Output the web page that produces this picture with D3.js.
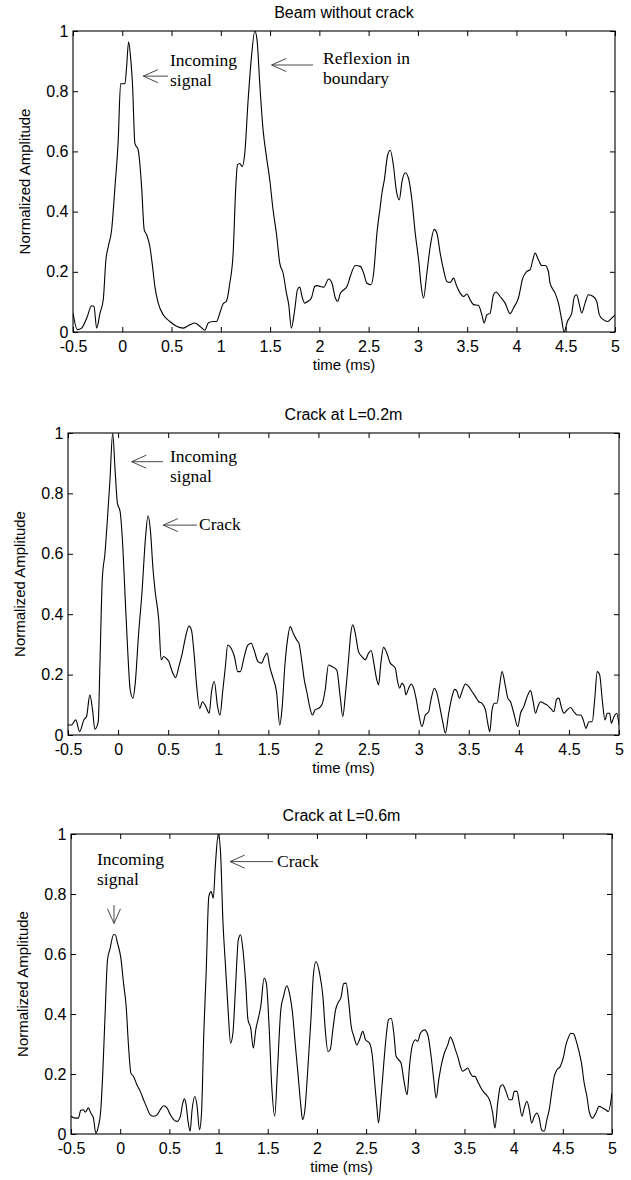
<!DOCTYPE html>
<html>
<head>
<meta charset="utf-8">
<script src="https://cdn.jsdelivr.net/npm/d3@7"></script>
<style>
  body { margin: 0; background: #fff; }
  svg { display: block; }
  .axis text { font-family: "Liberation Sans", Arial, sans-serif; font-size: 16px; fill: #000; }
  .axis line { stroke: #000; }
  .title, .xlabel, .ylabel { font-family: "Liberation Sans", Arial, sans-serif; fill: #000; }
  .title { font-size: 16px; }
  .xlabel, .ylabel { font-size: 15px; }
  .note { font-family: "Liberation Serif", "Times New Roman", serif; font-size: 17.5px; fill: #000; }
  .note-arrow { stroke: #333; stroke-width: 0.9; fill: none; }
</style>
</head>
<body>
<div id="chart"></div>
<script>
// signal traces: [time (ms), normalized amplitude]
const beamNoCrack = [
  [-0.500, 0.063], [-0.456, 0.008], [-0.412, 0.013], [-0.361, 0.046], [-0.311, 0.087], [-0.287, 0.085],
  [-0.260, 0.013], [-0.226, 0.063], [-0.193, 0.107], [-0.166, 0.240], [-0.142, 0.284], [-0.108, 0.339],
  [-0.074, 0.483], [-0.041, 0.638], [-0.017, 0.825], [0.010, 0.825], [0.027, 0.825], [0.044, 0.881],
  [0.064, 0.964], [0.084, 0.914], [0.105, 0.814], [0.128, 0.627], [0.162, 0.604], [0.196, 0.483],
  [0.223, 0.339], [0.247, 0.323], [0.280, 0.284], [0.307, 0.218], [0.331, 0.151], [0.365, 0.096],
  [0.416, 0.057], [0.483, 0.035], [0.551, 0.019], [0.618, 0.013], [0.686, 0.024], [0.736, 0.030],
  [0.787, 0.019], [0.838, 0.006], [0.872, 0.030], [0.922, 0.035], [0.956, 0.035], [0.990, 0.063],
  [1.024, 0.094], [1.057, 0.102], [1.091, 0.162], [1.125, 0.262], [1.152, 0.483], [1.169, 0.555],
  [1.193, 0.560], [1.216, 0.549], [1.243, 0.593], [1.277, 0.770], [1.311, 0.914], [1.345, 1.000],
  [1.368, 0.969], [1.395, 0.825], [1.429, 0.671], [1.463, 0.582], [1.497, 0.505], [1.530, 0.406],
  [1.564, 0.328], [1.598, 0.229], [1.632, 0.196], [1.666, 0.129], [1.689, 0.091], [1.716, 0.013],
  [1.750, 0.074], [1.777, 0.140], [1.801, 0.149], [1.824, 0.118], [1.851, 0.096], [1.885, 0.102],
  [1.919, 0.113], [1.953, 0.151], [1.976, 0.154], [2.044, 0.149], [2.095, 0.176], [2.128, 0.162],
  [2.162, 0.113], [2.186, 0.102], [2.213, 0.129], [2.247, 0.140], [2.280, 0.151], [2.314, 0.185],
  [2.365, 0.221], [2.416, 0.218], [2.449, 0.196], [2.483, 0.162], [2.524, 0.157], [2.551, 0.196],
  [2.584, 0.328], [2.618, 0.417], [2.635, 0.461], [2.659, 0.505], [2.693, 0.588], [2.720, 0.604],
  [2.753, 0.549], [2.780, 0.472], [2.811, 0.439], [2.838, 0.499], [2.872, 0.529], [2.905, 0.510],
  [2.939, 0.439], [2.973, 0.328], [3.007, 0.240], [3.034, 0.151], [3.057, 0.113], [3.091, 0.196],
  [3.125, 0.284], [3.166, 0.341], [3.193, 0.328], [3.226, 0.262], [3.260, 0.207], [3.294, 0.168],
  [3.328, 0.165], [3.361, 0.179], [3.395, 0.151], [3.429, 0.129], [3.463, 0.118], [3.497, 0.126],
  [3.530, 0.107], [3.564, 0.091], [3.615, 0.088], [3.649, 0.057], [3.672, 0.030], [3.699, 0.057],
  [3.733, 0.063], [3.767, 0.124], [3.794, 0.133], [3.834, 0.118], [3.885, 0.096], [3.936, 0.061],
  [3.970, 0.080], [4.020, 0.113], [4.064, 0.179], [4.105, 0.201], [4.139, 0.207], [4.166, 0.240],
  [4.189, 0.262], [4.223, 0.240], [4.257, 0.221], [4.291, 0.221], [4.324, 0.201], [4.341, 0.162],
  [4.392, 0.129], [4.426, 0.096], [4.459, 0.041], [4.483, 0.000], [4.517, 0.035], [4.561, 0.063],
  [4.588, 0.118], [4.611, 0.124], [4.635, 0.096], [4.662, 0.063], [4.696, 0.096], [4.730, 0.124],
  [4.780, 0.118], [4.814, 0.102], [4.841, 0.057], [4.882, 0.041], [4.926, 0.035], [4.966, 0.046],
  [5.000, 0.057],
];

const crackAt02 = [
  [-0.500, 0.033], [-0.466, 0.033], [-0.423, 0.050], [-0.383, 0.011], [-0.342, 0.050], [-0.315, 0.061],
  [-0.282, 0.133], [-0.255, 0.083], [-0.232, 0.019], [-0.198, 0.044], [-0.181, 0.238], [-0.158, 0.514],
  [-0.131, 0.602], [-0.107, 0.713], [-0.081, 0.845], [-0.054, 1.000], [-0.030, 0.878], [-0.007, 0.768],
  [0.020, 0.740], [0.047, 0.624], [0.070, 0.459], [0.094, 0.293], [0.121, 0.149], [0.148, 0.122],
  [0.171, 0.171], [0.205, 0.337], [0.238, 0.470], [0.272, 0.646], [0.299, 0.726], [0.322, 0.680],
  [0.349, 0.547], [0.372, 0.470], [0.406, 0.381], [0.430, 0.249], [0.456, 0.260], [0.480, 0.254],
  [0.507, 0.243], [0.540, 0.210], [0.574, 0.190], [0.607, 0.227], [0.641, 0.271], [0.674, 0.326],
  [0.708, 0.361], [0.732, 0.348], [0.758, 0.271], [0.785, 0.160], [0.815, 0.088], [0.842, 0.110],
  [0.876, 0.094], [0.909, 0.072], [0.933, 0.144], [0.960, 0.177], [0.993, 0.094], [1.017, 0.066],
  [1.044, 0.144], [1.071, 0.227], [1.094, 0.298], [1.128, 0.287], [1.161, 0.260], [1.195, 0.210],
  [1.221, 0.210], [1.255, 0.254], [1.295, 0.298], [1.329, 0.304], [1.362, 0.276], [1.396, 0.243],
  [1.430, 0.238], [1.463, 0.260], [1.487, 0.271], [1.513, 0.227], [1.547, 0.188], [1.581, 0.144],
  [1.614, 0.033], [1.638, 0.094], [1.664, 0.227], [1.691, 0.315], [1.718, 0.359], [1.748, 0.337],
  [1.782, 0.315], [1.805, 0.304], [1.832, 0.249], [1.859, 0.182], [1.883, 0.144], [1.916, 0.088],
  [1.940, 0.066], [1.966, 0.083], [2.000, 0.088], [2.033, 0.099], [2.067, 0.149], [2.100, 0.232],
  [2.133, 0.227], [2.183, 0.215], [2.217, 0.127], [2.243, 0.061], [2.267, 0.127], [2.300, 0.249],
  [2.323, 0.337], [2.343, 0.365], [2.367, 0.337], [2.400, 0.276], [2.433, 0.260], [2.467, 0.249],
  [2.500, 0.271], [2.527, 0.280], [2.550, 0.243], [2.583, 0.182], [2.600, 0.166], [2.623, 0.238],
  [2.650, 0.290], [2.683, 0.271], [2.717, 0.238], [2.743, 0.230], [2.767, 0.221], [2.790, 0.177],
  [2.810, 0.155], [2.833, 0.171], [2.857, 0.160], [2.873, 0.133], [2.900, 0.155], [2.927, 0.169],
  [2.950, 0.155], [2.977, 0.116], [3.000, 0.072], [3.033, 0.028], [3.067, 0.066], [3.100, 0.077],
  [3.123, 0.116], [3.157, 0.155], [3.183, 0.138], [3.217, 0.083], [3.243, 0.039], [3.267, 0.006],
  [3.300, 0.072], [3.333, 0.127], [3.360, 0.151], [3.383, 0.144], [3.407, 0.122], [3.433, 0.144],
  [3.467, 0.169], [3.500, 0.160], [3.533, 0.144], [3.567, 0.127], [3.600, 0.110], [3.633, 0.105],
  [3.667, 0.083], [3.690, 0.039], [3.710, 0.011], [3.733, 0.083], [3.757, 0.105], [3.783, 0.105],
  [3.807, 0.160], [3.833, 0.210], [3.867, 0.160], [3.890, 0.122], [3.917, 0.110], [3.950, 0.072],
  [3.990, 0.028], [4.017, 0.072], [4.050, 0.094], [4.083, 0.127], [4.117, 0.147], [4.140, 0.116],
  [4.167, 0.072], [4.190, 0.094], [4.217, 0.110], [4.250, 0.105], [4.283, 0.099], [4.317, 0.088],
  [4.350, 0.077], [4.377, 0.118], [4.400, 0.122], [4.423, 0.094], [4.450, 0.072], [4.483, 0.083],
  [4.517, 0.091], [4.550, 0.077], [4.583, 0.066], [4.617, 0.066], [4.643, 0.050], [4.670, 0.022],
  [4.700, 0.044], [4.733, 0.044], [4.757, 0.116], [4.783, 0.210], [4.807, 0.199], [4.833, 0.116],
  [4.860, 0.050], [4.883, 0.072], [4.907, 0.072], [4.923, 0.039], [4.950, 0.061], [4.977, 0.072],
  [5.000, 0.033],
];

const crackAt06 = [
  [-0.500, 0.059], [-0.459, 0.053], [-0.425, 0.053], [-0.401, 0.079], [-0.374, 0.081], [-0.354, 0.073],
  [-0.323, 0.087], [-0.299, 0.070], [-0.272, 0.053], [-0.248, 0.003], [-0.221, 0.026], [-0.197, 0.081],
  [-0.177, 0.203], [-0.153, 0.403], [-0.129, 0.580], [-0.102, 0.619], [-0.068, 0.664], [-0.051, 0.664],
  [-0.027, 0.636], [0.007, 0.586], [0.034, 0.503], [0.061, 0.425], [0.085, 0.292], [0.109, 0.203],
  [0.136, 0.192], [0.170, 0.164], [0.204, 0.142], [0.238, 0.114], [0.272, 0.087], [0.306, 0.064],
  [0.340, 0.059], [0.374, 0.064], [0.408, 0.081], [0.442, 0.094], [0.476, 0.087], [0.510, 0.064],
  [0.544, 0.048], [0.578, 0.042], [0.612, 0.059], [0.636, 0.103], [0.653, 0.117], [0.670, 0.098],
  [0.690, 0.042], [0.711, 0.009], [0.731, 0.081], [0.759, 0.125], [0.782, 0.092], [0.806, 0.014],
  [0.827, 0.070], [0.850, 0.336], [0.874, 0.536], [0.901, 0.791], [0.925, 0.808], [0.946, 0.786],
  [0.969, 0.902], [0.997, 1.000], [1.020, 0.941], [1.044, 0.714], [1.071, 0.558], [1.099, 0.403],
  [1.122, 0.303], [1.146, 0.336], [1.173, 0.492], [1.201, 0.647], [1.224, 0.664], [1.248, 0.614],
  [1.276, 0.503], [1.299, 0.381], [1.327, 0.353], [1.354, 0.286], [1.378, 0.347], [1.401, 0.381],
  [1.429, 0.425], [1.463, 0.519], [1.486, 0.503], [1.514, 0.358], [1.541, 0.159], [1.571, 0.059],
  [1.599, 0.214], [1.633, 0.414], [1.660, 0.458], [1.694, 0.494], [1.721, 0.469], [1.752, 0.403],
  [1.779, 0.303], [1.810, 0.192], [1.837, 0.092], [1.854, 0.048], [1.878, 0.081], [1.905, 0.203],
  [1.939, 0.381], [1.963, 0.525], [1.990, 0.575], [2.027, 0.536], [2.061, 0.458], [2.085, 0.347],
  [2.112, 0.275], [2.135, 0.281], [2.162, 0.347], [2.190, 0.414], [2.213, 0.436], [2.247, 0.458],
  [2.271, 0.501], [2.298, 0.503], [2.321, 0.447], [2.349, 0.358], [2.376, 0.325], [2.406, 0.297],
  [2.433, 0.314], [2.467, 0.342], [2.494, 0.314], [2.535, 0.303], [2.562, 0.264], [2.585, 0.181],
  [2.609, 0.092], [2.626, 0.037], [2.653, 0.125], [2.680, 0.236], [2.704, 0.325], [2.728, 0.381],
  [2.755, 0.386], [2.782, 0.336], [2.805, 0.259], [2.832, 0.247], [2.856, 0.236], [2.883, 0.181],
  [2.917, 0.131], [2.941, 0.225], [2.968, 0.292], [3.002, 0.314], [3.025, 0.309], [3.052, 0.336],
  [3.093, 0.347], [3.127, 0.331], [3.161, 0.259], [3.188, 0.181], [3.212, 0.120], [3.239, 0.181],
  [3.269, 0.236], [3.296, 0.270], [3.330, 0.297], [3.357, 0.323], [3.381, 0.309], [3.408, 0.281],
  [3.431, 0.259], [3.459, 0.225], [3.482, 0.209], [3.506, 0.214], [3.533, 0.220], [3.560, 0.203],
  [3.584, 0.192], [3.607, 0.192], [3.635, 0.175], [3.668, 0.153], [3.702, 0.137], [3.736, 0.125],
  [3.760, 0.109], [3.787, 0.070], [3.810, 0.020], [3.838, 0.103], [3.865, 0.159], [3.888, 0.164],
  [3.922, 0.142], [3.956, 0.114], [3.983, 0.114], [4.007, 0.142], [4.034, 0.142], [4.058, 0.103],
  [4.085, 0.059], [4.108, 0.087], [4.135, 0.109], [4.159, 0.081], [4.183, 0.037], [4.210, 0.059],
  [4.237, 0.070], [4.260, 0.053], [4.284, 0.014], [4.311, 0.009], [4.338, 0.048], [4.362, 0.081],
  [4.386, 0.137], [4.413, 0.192], [4.440, 0.214], [4.474, 0.225], [4.508, 0.259], [4.531, 0.297],
  [4.555, 0.320], [4.582, 0.336], [4.609, 0.334], [4.633, 0.314], [4.660, 0.281], [4.690, 0.236],
  [4.717, 0.170], [4.745, 0.125], [4.768, 0.075], [4.802, 0.053], [4.836, 0.070], [4.870, 0.092],
  [4.904, 0.087], [4.937, 0.081], [4.964, 0.075], [5.000, 0.137],
];

const xTicks = [-0.5, 0, 0.5, 1, 1.5, 2, 2.5, 3, 3.5, 4, 4.5, 5];
const yTicks = [0, 0.2, 0.4, 0.6, 0.8, 1];
const titles = ['Beam without crack', 'Crack at L=0.2m', 'Crack at L=0.6m'];
const xLabel = 'time (ms)';
const yLabel = 'Normalized Amplitude';

// annotations, in data units: arrow tail -> tip, then text anchor
const notesBeam = [
  { tail: [0.464, 0.850], tip: [0.213, 0.850], at: [0.484, 0.885], lines: ['Incoming', 'signal'] },
  { tail: [1.935, 0.887], tip: [1.516, 0.887], at: [2.037, 0.889], lines: ['Reflexion in', 'boundary'] },
];
const notesCrack02 = [
  { tail: [0.448, 0.905], tip: [0.136, 0.905], at: [0.518, 0.904], lines: ['Incoming', 'signal'] },
  { tail: [0.788, 0.695], tip: [0.451, 0.695], at: [0.808, 0.679], lines: ['Crack'] },
];
const notesCrack06 = [
  { tail: [-0.063, 0.763], tip: [-0.063, 0.702], at: [-0.236, 0.897], lines: ['Incoming', 'signal'] },
  { tail: [1.554, 0.908], tip: [1.117, 0.908], at: [1.594, 0.890], lines: ['Crack'] },
];

const panels = [
  { data: beamNoCrack, notes: notesBeam, box: { left: 73, top: 31, width: 542, height: 301 } },
  { data: crackAt02, notes: notesCrack02, box: { left: 68, top: 433, width: 551, height: 302 } },
  { data: crackAt06, notes: notesCrack06, box: { left: 71, top: 834, width: 541, height: 300 } },
];

const width = 631;
const height = 1180;

const svg = d3.select('#chart')
  .append('svg')
    .attr('width', width)
    .attr('height', height);

const fmt = d => String(d);

panels.forEach((panel, i) => {
  const { left, top } = panel.box;
  const w = panel.box.width;
  const h = panel.box.height;

  const xScale = d3.scaleLinear()
      .domain([-0.5, 5])
      .range([0, w]);

  const yScale = d3.scaleLinear()
      .domain([0, 1])
      .range([h, 0]);

  const g = svg.append('g')
      .attr('transform', `translate(${left}, ${top})`);

  g.append('clipPath')
      .attr('id', `clip-${i}`)
    .append('rect')
      .attr('width', w)
      .attr('height', h);

  // inward ticks on all four sides, matlab style
  g.append('g')
      .attr('class', 'axis x')
      .attr('transform', `translate(0, ${h})`)
      .call(d3.axisBottom(xScale).tickValues(xTicks).tickFormat(fmt).tickSizeInner(-5).tickSizeOuter(0).tickPadding(9))
      .call(s => s.select('.domain').remove());

  g.append('g')
      .attr('class', 'axis x-top')
      .call(d3.axisTop(xScale).tickValues(xTicks).tickFormat('').tickSizeInner(-5).tickSizeOuter(0))
      .call(s => s.select('.domain').remove());

  g.append('g')
      .attr('class', 'axis y')
      .call(d3.axisLeft(yScale).tickValues(yTicks).tickFormat(fmt).tickSizeInner(-5).tickSizeOuter(0).tickPadding(4.5))
      .call(s => s.select('.domain').remove());

  g.append('g')
      .attr('class', 'axis y-right')
      .attr('transform', `translate(${w}, 0)`)
      .call(d3.axisRight(yScale).tickValues(yTicks).tickFormat('').tickSizeInner(-5).tickSizeOuter(0))
      .call(s => s.select('.domain').remove());

  g.append('rect')
      .attr('x', 0)
      .attr('y', 0)
      .attr('width', w)
      .attr('height', h)
      .attr('fill', 'none')
      .attr('stroke', '#000')
      .attr('stroke-width', 1.1);

  const line = d3.line()
      .x(d => xScale(d[0]))
      .y(d => yScale(d[1]))
      .curve(d3.curveMonotoneX);

  g.append('path')
      .datum(panel.data)
      .attr('clip-path', `url(#clip-${i})`)
      .attr('fill', 'none')
      .attr('stroke', '#000')
      .attr('stroke-width', 1.1)
      .attr('d', line);

  g.append('text')
      .attr('class', 'title')
      .attr('x', w / 2)
      .attr('y', -13)
      .attr('text-anchor', 'middle')
      .text(titles[i]);

  g.append('text')
      .attr('class', 'xlabel')
      .attr('x', w / 2)
      .attr('y', h + 38)
      .attr('text-anchor', 'middle')
      .text(xLabel);

  g.append('text')
      .attr('class', 'ylabel')
      .attr('transform', `translate(-43, ${h / 2}) rotate(-90)`)
      .attr('text-anchor', 'middle')
      .text(yLabel);

  // annotation arrows + labels
  panel.notes.forEach((note) => {
    const x1 = xScale(note.tail[0]);
    const y1 = yScale(note.tail[1]);
    const x2 = xScale(note.tip[0]);
    const y2 = yScale(note.tip[1]);
    const ang = Math.atan2(y2 - y1, x2 - x1);
    const headLen = 16;
    const spread = 0.42;

    g.append('line')
        .attr('class', 'note-arrow')
        .attr('x1', x1)
        .attr('y1', y1)
        .attr('x2', x2)
        .attr('y2', y2);

    const hx1 = x2 - headLen * Math.cos(ang - spread);
    const hy1 = y2 - headLen * Math.sin(ang - spread);
    const hx2 = x2 - headLen * Math.cos(ang + spread);
    const hy2 = y2 - headLen * Math.sin(ang + spread);

    g.append('path')
        .attr('class', 'note-arrow')
        .attr('d', `M${hx1},${hy1}L${x2},${y2}L${hx2},${hy2}`);

    const txt = g.append('text')
        .attr('class', 'note')
        .attr('x', xScale(note.at[0]))
        .attr('y', yScale(note.at[1]));

    txt.selectAll('tspan')
        .data(note.lines)
      .enter().append('tspan')
        .attr('x', xScale(note.at[0]))
        .attr('dy', (d, k) => (k === 0 ? 0 : 20))
        .text(d => d);
  });
});
</script>
</body>
</html>
